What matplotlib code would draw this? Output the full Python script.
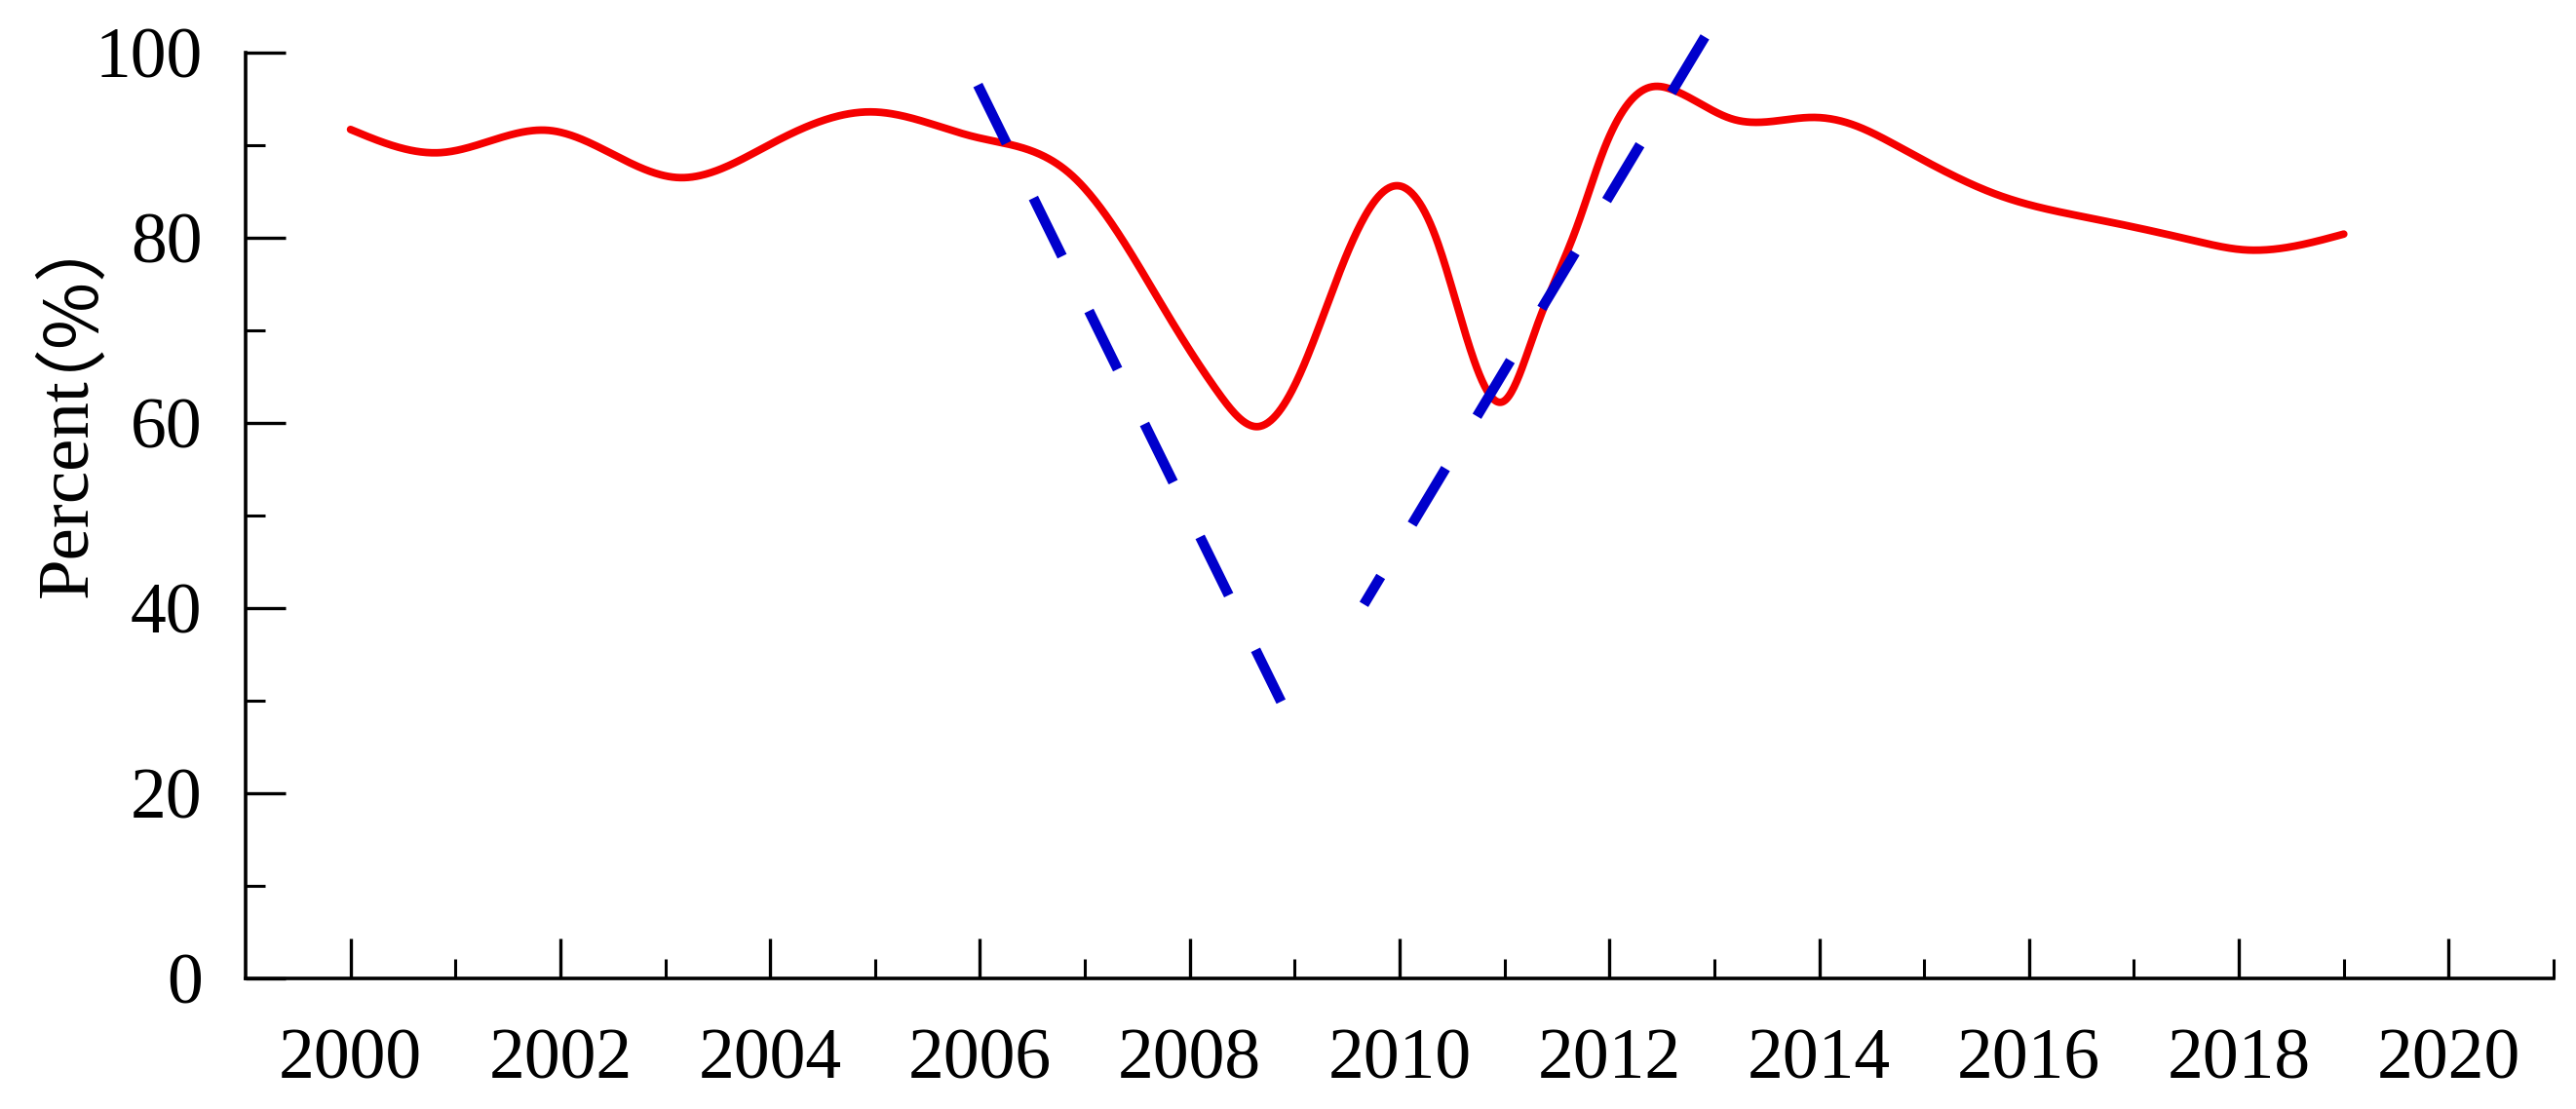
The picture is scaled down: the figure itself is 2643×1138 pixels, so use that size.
import numpy as np, matplotlib
matplotlib.use('Agg')
import matplotlib.pyplot as plt
from matplotlib.ticker import FixedLocator

RED = '#F50000'; BLUE = '#0000CC'

# red curve, values (year, percent)
years = [2000.0, 2000.86, 2001.89, 2003.13, 2004.0, 2004.96, 2005.95, 2006.41, 2006.88,
         2007.34, 2007.81, 2008.27, 2008.64, 2009.01, 2009.5, 2009.95, 2010.35, 2010.67,
         2011.0, 2011.3, 2011.7, 2011.95, 2012.4, 2012.6, 2013.18, 2013.96, 2014.3,
         2014.78, 2015.71, 2016.64, 2017.57, 2018.05, 2019.0]
percent = [91.7, 89.2, 91.6, 86.5, 90.1, 93.6, 90.9, 89.7, 86.7,
           80.1, 71.3, 63.3, 59.6, 64.3, 78.3, 85.6, 79.9, 68.1,
           62.4, 70.2, 81.5, 89.6, 96.3, 96.0, 92.8, 93.0, 92.3,
           89.7, 84.6, 82.0, 79.7, 78.7, 80.4]

# dashed trend lines (drawn from the top end down)
fall_x = [2005.98, 2008.87]; fall_y = [96.5, 29.9]
rise_x = [2012.91, 2009.66]; rise_y = [101.7, 40.4]

major_years = list(range(2000, 2021, 2))
minor_years = list(range(2001, 2022, 2))
y_major = [0, 20, 40, 60, 80, 100]
y_minor = [10, 30, 50, 70, 90]

def nat_spline(x, y, xs):
    x = np.asarray(x, float); y = np.asarray(y, float)
    n = len(x); h = np.diff(x)
    A = np.zeros((n, n)); b = np.zeros(n)
    A[0, 0] = A[-1, -1] = 1
    for i in range(1, n - 1):
        A[i, i-1] = h[i-1]; A[i, i] = 2*(h[i-1] + h[i]); A[i, i+1] = h[i]
        b[i] = 3*((y[i+1]-y[i])/h[i] - (y[i]-y[i-1])/h[i-1])
    c = np.linalg.solve(A, b)
    bc = (y[1:]-y[:-1])/h - h*(2*c[:-1] + c[1:])/3
    d = (c[1:]-c[:-1])/(3*h)
    k = np.clip(np.searchsorted(x, xs) - 1, 0, n - 2)
    t = xs - x[k]
    return y[k] + bc[k]*t + c[k]*t**2 + d[k]*t**3

plt.rcParams['font.family'] = ['Liberation Serif', 'Noto Sans CJK SC']
plt.rcParams['lines.scale_dashes'] = False

fig = plt.figure(figsize=(26.43, 11.38), dpi=100)
ax = fig.add_axes([252/2643, 1-1004/1138, (2620-252)/2643, (1004-54)/1138])

xs = np.linspace(years[0], years[-1], 1500)
ax.plot(xs, nat_spline(years, percent, xs), color=RED, lw=5.6, solid_capstyle='round')
ax.plot(fall_x, fall_y, color=BLUE, lw=7.5, dashes=(48, 45), clip_on=False)
ax.plot(rise_x, rise_y, color=BLUE, lw=7.5, dashes=(48, 45), clip_on=False)

ax.set_xlim(1999, 2021); ax.set_ylim(0, 100)
ax.xaxis.set_major_locator(FixedLocator(major_years))
ax.xaxis.set_minor_locator(FixedLocator(minor_years))
ax.yaxis.set_major_locator(FixedLocator(y_major))
ax.yaxis.set_minor_locator(FixedLocator(y_minor))
for s in ['top', 'right']:
    ax.spines[s].set_visible(False)
for s in ['left', 'bottom']:
    ax.spines[s].set_linewidth(2.6)
ax.tick_params(which='major', direction='in', length=29.5, width=2.4, labelsize=53)
ax.tick_params(which='minor', direction='in', length=14.5, width=2.2)
ax.tick_params(axis='x', which='major', pad=37)
ax.tick_params(axis='y', which='major', pad=32)

# y label: "Percent" in serif, then the full-width brackets right after it
lx, ly = (104-252)/2368, (1004-613)/950
t1 = ax.text(lx, ly, 'Percent', rotation=90, ha='right', va='bottom',
             fontsize=54, transform=ax.transAxes, family='Liberation Serif')
r = fig.canvas.get_renderer()
bb = t1.get_window_extent(renderer=r)
x0, y0 = ax.transAxes.transform((lx, ly))
px2, top = ax.transAxes.inverted().transform((x0 - 38, y0 + bb.height + 8))
ax.text(px2, top, '（%）', rotation=90, ha='right', va='bottom',
        fontsize=54, transform=ax.transAxes, family=['Noto Sans CJK SC', 'DejaVu Sans'])

fig.savefig('out.png', dpi=100)
